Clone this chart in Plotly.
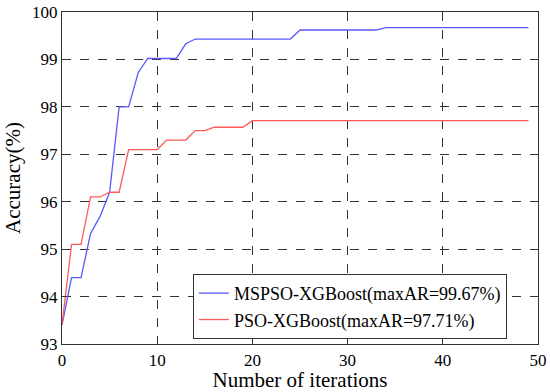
import plotly.graph_objects as go

iterations = list(range(50))
mspso = [93.4, 94.4, 94.4, 95.33, 95.69, 96.2, 98.0, 98.0, 98.72, 99.02,
         99.02, 99.02, 99.02, 99.33, 99.43, 99.43, 99.43, 99.43, 99.43, 99.43,
         99.43, 99.43, 99.43, 99.43, 99.43, 99.62, 99.62, 99.62, 99.62, 99.62,
         99.62, 99.62, 99.62, 99.62, 99.67] + [99.67] * 15
pso = [93.4, 95.1, 95.1, 96.1, 96.1, 96.2, 96.2, 97.1, 97.1, 97.1,
       97.1, 97.3, 97.3, 97.3, 97.5, 97.5, 97.57, 97.57, 97.57, 97.57] + [97.71] * 30

names = ["MSPSO-XGBoost(maxAR=99.67%)", "PSO-XGBoost(maxAR=97.71%)"]
colors = ["#5a5aff", "#ff5a5a"]

fig = go.Figure()
for y, n, c in zip([mspso, pso], names, colors):
    fig.add_trace(go.Scatter(x=iterations, y=y, mode="lines", name=n,
                             line=dict(color=c, width=1.3)))

font = "Liberation Serif, Times New Roman, serif"
axis_common = dict(showline=True, linecolor="#333", linewidth=1.2, mirror="allticks",
                   ticks="inside", ticklen=5, tickcolor="#333", automargin=False,
                   showgrid=True, gridcolor="#333", griddash="dash", gridwidth=1,
                   zeroline=False, tickfont=dict(family=font, size=17, color="black"))
fig.update_xaxes(range=[0, 50], dtick=10,
                 title=dict(text="Number of iterations", font=dict(family=font, size=21, color="black"), standoff=0),
                 **axis_common)
fig.update_yaxes(range=[93, 100], dtick=1,
                 title=dict(text="Accuracy(%)", font=dict(family=font, size=21, color="black"), standoff=5),
                 **axis_common)
fig.update_layout(
    width=550, height=392,
    margin=dict(l=62, r=12, t=12, b=48),
    plot_bgcolor="white", paper_bgcolor="white",
    legend=dict(x=0.275, y=0.211, xanchor="left", yanchor="top",
                bordercolor="#333", borderwidth=1, bgcolor="white",
                font=dict(family=font, size=18, color="black"),
                tracegroupgap=0, itemwidth=30),
)
fig.write_html("out.html", config={"displayModeBar": False},
               post_script="document.body.style.margin='0';document.body.style.overflow='hidden';")
